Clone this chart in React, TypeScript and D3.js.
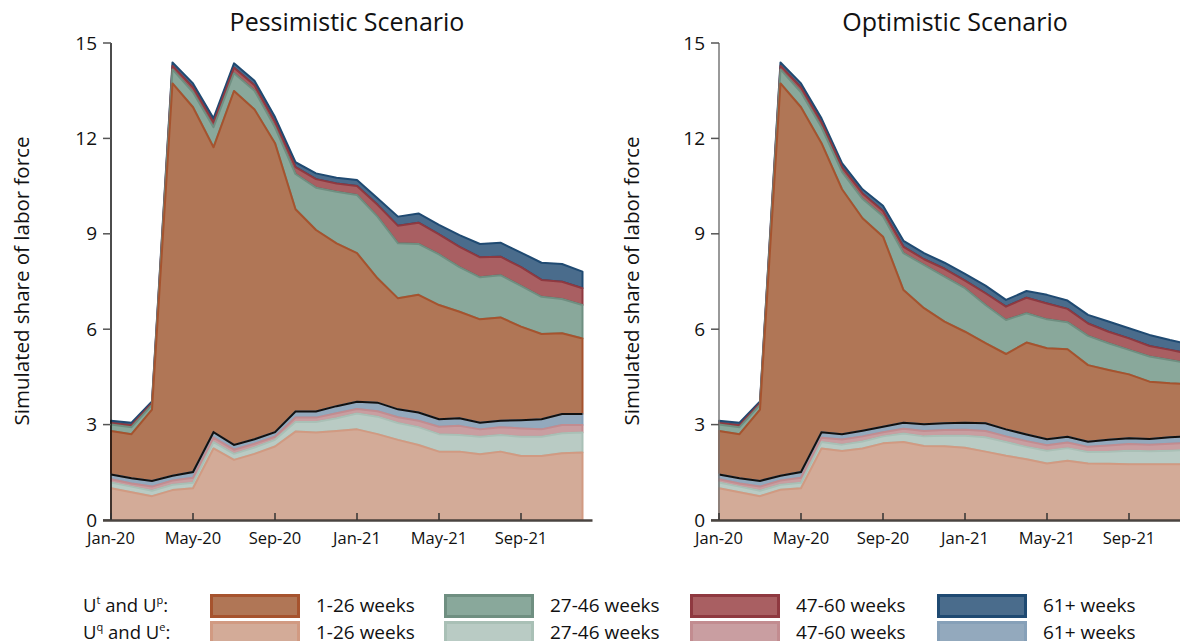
import React from "react";
import * as d3 from "d3";

const months = [
  "Jan-20","Feb-20","Mar-20","Apr-20","May-20","Jun-20","Jul-20","Aug-20","Sep-20","Oct-20","Nov-20","Dec-20",
  "Jan-21","Feb-21","Mar-21","Apr-21","May-21","Jun-21","Jul-21","Aug-21","Sep-21","Oct-21","Nov-21","Dec-21",
];
const tickMonths = ["Jan-20", "May-20", "Sep-20", "Jan-21", "May-21", "Sep-21"];
const yTicks = [0, 3, 6, 9, 12, 15];
const durationLabels = ["1-26 weeks", "27-46 weeks", "47-60 weeks", "61+ weeks"];

// Pessimistic scenario (share of labor force, %)
const pesQE1 = [1.00,0.87,0.75,0.94,1.00,2.25,1.89,2.08,2.31,2.78,2.75,2.80,2.85,2.70,2.52,2.36,2.15,2.15,2.07,2.15,2.01,2.01,2.10,2.12];
const pesQE2 = [0.18,0.18,0.17,0.17,0.17,0.20,0.19,0.20,0.21,0.30,0.33,0.40,0.50,0.55,0.53,0.56,0.55,0.52,0.55,0.52,0.61,0.61,0.63,0.63];
const pesQE3 = [0.10,0.10,0.13,0.13,0.16,0.14,0.13,0.12,0.10,0.14,0.14,0.16,0.14,0.17,0.18,0.20,0.23,0.29,0.23,0.25,0.26,0.23,0.26,0.24];
const pesQE4 = [0.15,0.16,0.18,0.15,0.18,0.17,0.15,0.14,0.14,0.19,0.19,0.22,0.23,0.27,0.25,0.26,0.24,0.24,0.21,0.20,0.26,0.32,0.34,0.34];
const pesTP1 = [1.37,1.39,2.24,12.34,11.47,8.96,11.13,10.37,9.09,6.36,5.71,5.12,4.67,3.91,3.49,3.70,3.59,3.35,3.25,3.25,2.94,2.68,2.54,2.38];
const pesTP2 = [0.20,0.22,0.15,0.44,0.47,0.63,0.56,0.59,0.50,1.11,1.33,1.62,1.83,1.94,1.73,1.60,1.59,1.40,1.32,1.33,1.28,1.17,1.08,1.05];
const pesTP3 = [0.05,0.06,0.05,0.11,0.15,0.15,0.17,0.17,0.17,0.22,0.27,0.26,0.28,0.37,0.55,0.67,0.63,0.64,0.63,0.58,0.59,0.53,0.54,0.53];
const pesTP4 = [0.07,0.08,0.06,0.11,0.13,0.13,0.14,0.14,0.15,0.15,0.18,0.18,0.19,0.21,0.29,0.29,0.30,0.37,0.42,0.44,0.46,0.54,0.56,0.52];

// Optimistic scenario
const optQE1 = [1.00,0.87,0.75,0.95,1.00,2.25,2.17,2.25,2.41,2.45,2.33,2.32,2.27,2.15,2.02,1.91,1.78,1.86,1.78,1.77,1.75,1.75,1.75,1.76];
const optQE2 = [0.18,0.18,0.17,0.16,0.17,0.20,0.20,0.22,0.22,0.27,0.30,0.33,0.38,0.45,0.43,0.39,0.40,0.40,0.36,0.38,0.43,0.41,0.43,0.44];
const optQE3 = [0.10,0.10,0.13,0.13,0.16,0.14,0.16,0.16,0.13,0.15,0.17,0.18,0.19,0.20,0.18,0.18,0.17,0.18,0.16,0.19,0.21,0.21,0.22,0.23];
const optQE4 = [0.15,0.16,0.18,0.15,0.18,0.17,0.17,0.18,0.17,0.19,0.21,0.21,0.22,0.24,0.22,0.21,0.19,0.18,0.16,0.18,0.18,0.18,0.20,0.21];
const optTP1 = [1.37,1.39,2.24,12.34,11.47,9.09,7.70,6.68,5.98,4.17,3.65,3.20,2.86,2.52,2.37,2.89,2.86,2.75,2.41,2.20,2.01,1.80,1.70,1.63];
const optTP2 = [0.20,0.22,0.15,0.44,0.47,0.50,0.55,0.61,0.64,1.16,1.36,1.41,1.37,1.20,1.07,0.92,0.91,0.85,0.92,0.84,0.77,0.79,0.73,0.65];
const optTP3 = [0.05,0.06,0.05,0.11,0.15,0.15,0.15,0.17,0.17,0.20,0.18,0.25,0.24,0.37,0.42,0.49,0.50,0.42,0.39,0.36,0.36,0.33,0.32,0.30];
const optTP4 = [0.07,0.08,0.06,0.11,0.13,0.13,0.12,0.13,0.16,0.19,0.19,0.19,0.21,0.24,0.21,0.21,0.27,0.26,0.27,0.32,0.32,0.35,0.31,0.30];

const keys = ["qe1", "qe2", "qe3", "qe4", "tp1", "tp2", "tp3", "tp4"];
const fills: Record<string, string> = {
  qe1: "#d3ab98", qe2: "#b9cbc4", qe3: "#c99ea1", qe4: "#93a9bd",
  tp1: "#b07656", tp2: "#89a89b", tp3: "#a95f62", tp4: "#4a6c8c",
};
const strokes: Record<string, string> = {
  qe1: "#d19a82", qe2: "#a9c0b6", qe3: "#c28c90", qe4: "#86a0b8",
  tp1: "#a6532e", tp2: "#6f8f81", tp3: "#8f3940", tp4: "#1f4a72",
};

const FONT = "'Open Sans', 'Noto Sans', sans-serif";

function buildRows(series: number[][]) {
  return months.map((m, i) => {
    const row: any = { month: m };
    keys.forEach((k, j) => (row[k] = series[j][i]));
    return row;
  });
}

const pesRows = buildRows([pesQE1, pesQE2, pesQE3, pesQE4, pesTP1, pesTP2, pesTP3, pesTP4]);
const optRows = buildRows([optQE1, optQE2, optQE3, optQE4, optTP1, optTP2, optTP3, optTP4]);

function Panel({ rows, title, x0, axisColor, labelX }: any) {
  const plotW = 471.5;
  const x = d3.scalePoint<string>().domain(months).range([x0, x0 + plotW]);
  const y = d3.scaleLinear().domain([0, 15]).range([520, 43]);
  const stacked = d3.stack<any>().keys(keys)(rows);
  const area = d3
    .area<any>()
    .x((d) => x(d.data.month) as number)
    .y0((d) => y(d[0]))
    .y1((d) => y(d[1]));
  const line = d3
    .line<any>()
    .x((d) => x(d.data.month) as number)
    .y((d) => y(d[1]));
  const lowerTop = stacked[3];
  return (
    <g>
      {stacked
        .slice()
        .reverse()
        .map((s) => (
          <path
            key={s.key}
            d={area(s) as string}
            fill={fills[s.key]}
            stroke={strokes[s.key]}
            strokeWidth={2}
            strokeLinejoin="round"
          />
        ))}
      <path d={line(lowerTop) as string} fill="none" stroke="#111" strokeWidth={2} />
      {/* y axis */}
      <line x1={x0} x2={x0} y1={y(15)} y2={y(0)} stroke={axisColor} strokeWidth={1.5} />
      {yTicks.map((t) => (
        <g key={t}>
          <line x1={x0 - 8} x2={x0} y1={y(t)} y2={y(t)} stroke="#555" strokeWidth={1.5} />
          <text
            x={x0 - 14}
            y={y(t)}
            dy="0.35em"
            textAnchor="end"
            fontSize={19}
            fontFamily={FONT}
            fill="#111"
          >
            {t}
          </text>
        </g>
      ))}
      {/* x axis */}
      <line x1={x0 - 8} x2={x0 + plotW + 10} y1={520.5} y2={520.5} stroke="#4a4440" strokeWidth={2.5} />
      {tickMonths.map((m) => (
        <g key={m}>
          <line x1={x(m)} x2={x(m)} y1={513} y2={520} stroke="#333" strokeWidth={1.5} />
          <text x={x(m)} y={544} textAnchor="middle" fontSize={16.5} fontFamily={FONT} fill="#111">
            {m}
          </text>
        </g>
      ))}
      <text
        transform={`translate(${labelX},281) rotate(-90)`}
        textAnchor="middle"
        fontSize={20.5}
        fontFamily={FONT}
        fill="#111"
      >
        Simulated share of labor force
      </text>
      <text x={x0 + 236} y={31} textAnchor="middle" fontSize={25} fontFamily={FONT} fill="#111">
        {title}
      </text>
    </g>
  );
}

function Legend() {
  const swX = [210, 444, 690, 937];
  const rowsDef = [
    { keysRow: ["tp1", "tp2", "tp3", "tp4"], y: 594, a: "t", b: "p" },
    { keysRow: ["qe1", "qe2", "qe3", "qe4"], y: 621, a: "q", b: "e" },
  ];
  return (
    <g fontFamily={FONT} fill="#111">
      {rowsDef.map((r, ri) => (
        <g key={ri}>
          <text x={83} y={r.y + 18} fontSize={18.5}>
            U<tspan fontSize={11} dy={-8}>{r.a}</tspan>
            <tspan dy={8}> and U</tspan>
            <tspan fontSize={11} dy={-8}>{r.b}</tspan>
            <tspan dy={8}>:</tspan>
          </text>
          {r.keysRow.map((k, i) => (
            <g key={k}>
              <rect
                x={swX[i] + 1.5}
                y={r.y + 1.5}
                width={87}
                height={21}
                fill={fills[k]}
                stroke={strokes[k]}
                strokeWidth={3}
              />
              <text x={swX[i] + 106} y={r.y + 18} fontSize={19}>
                {durationLabels[i]}
              </text>
            </g>
          ))}
        </g>
      ))}
    </g>
  );
}

export default function App() {
  React.useEffect(() => {
    document.body.style.margin = "0";
    document.body.style.overflow = "hidden";
  }, []);
  return (
    <svg
      width={1180}
      height={641}
      style={{ position: "absolute", left: 0, top: 0, display: "block", background: "#fff" }}
    >
      <rect width={1180} height={641} fill="#fff" />
      <Panel rows={pesRows} title="Pessimistic Scenario" x0={111} axisColor="#111" labelX={29} />
      <Panel rows={optRows} title="Optimistic Scenario" x0={719} axisColor="#777" labelX={639} />
      <Legend />
    </svg>
  );
}
